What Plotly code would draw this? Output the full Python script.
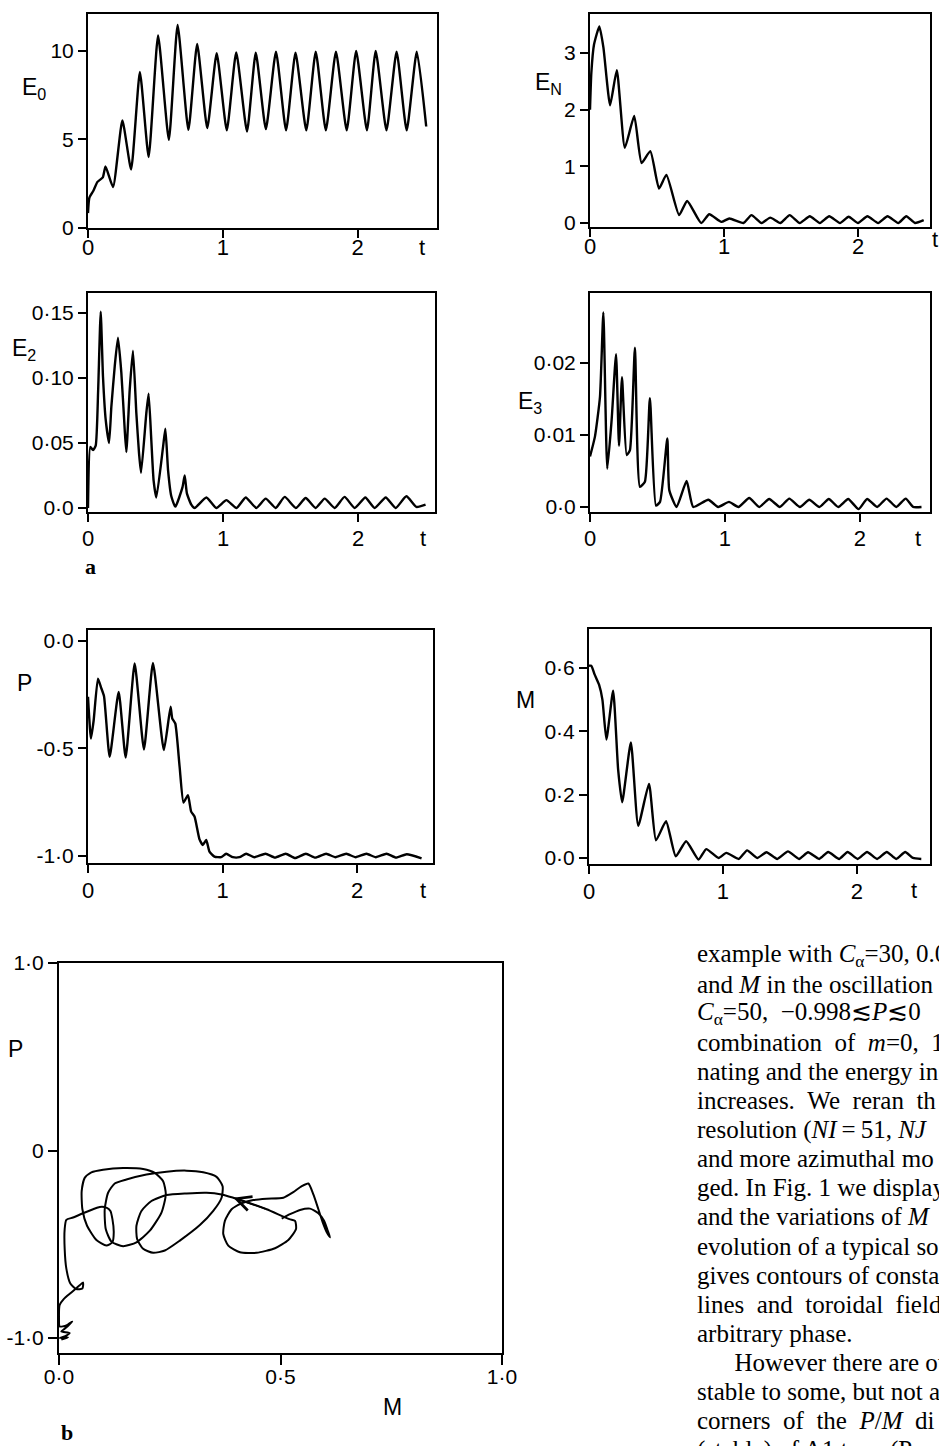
import plotly.graph_objects as go

# ---------------- data ----------------
E0_T = [0, 0.01, 0.04, 0.07, 0.11, 0.13, 0.186, 0.255, 0.32, 0.385, 0.45, 0.52, 0.60, 0.665, 0.745,
        0.81, 0.885, 0.955, 1.03, 1.10, 1.18, 1.245, 1.32, 1.395, 1.47, 1.54, 1.62, 1.69, 1.765,
        1.84, 1.92, 1.99, 2.07, 2.135, 2.215, 2.29, 2.365, 2.44, 2.51]
E0_V = [0.84, 1.7, 2.1, 2.6, 2.85, 3.47, 2.31, 6.06, 3.3, 8.8, 4.0, 10.85, 4.97, 11.44, 5.53,
        10.37, 5.63, 9.85, 5.5, 9.9, 5.44, 9.88, 5.57, 9.94, 5.5, 9.88, 5.5, 9.94, 5.5,
        9.94, 5.5, 9.98, 5.5, 9.98, 5.5, 9.94, 5.5, 9.94, 5.72]

EN_T = [0, 0.01, 0.03, 0.07, 0.10, 0.15, 0.20, 0.26, 0.33, 0.385, 0.45, 0.515, 0.57, 0.665, 0.725,
        0.83, 0.89, 0.98, 1.04, 1.145, 1.205, 1.28, 1.345, 1.42, 1.49, 1.565, 1.64, 1.715, 1.785,
        1.865, 1.93, 2.0, 2.07, 2.15, 2.22, 2.30, 2.36, 2.425, 2.49]
EN_V = [2.0, 2.65, 3.15, 3.47, 3.1, 2.08, 2.70, 1.33, 1.89, 1.06, 1.27, 0.61, 0.85, 0.14, 0.39,
        0.0, 0.155, 0.02, 0.08, 0.0, 0.14, 0.0, 0.095, 0.0, 0.14, 0.0, 0.12, 0.0, 0.12,
        0.0, 0.11, 0.0, 0.12, 0.0, 0.12, 0.0, 0.12, 0.0, 0.05]

E2_T = [0, 0.017, 0.037, 0.057, 0.075, 0.094, 0.111, 0.131, 0.156, 0.173, 0.198, 0.222, 0.247, 0.272,
        0.284, 0.309, 0.333, 0.358, 0.378, 0.393, 0.432, 0.449, 0.469, 0.486, 0.506, 0.556, 0.573,
        0.593, 0.617, 0.647, 0.70, 0.716, 0.733, 0.765, 0.79, 0.877, 0.95, 1.025, 1.10, 1.168,
        1.247, 1.316, 1.39, 1.457, 1.54, 1.612, 1.686, 1.753, 1.827, 1.90, 1.975, 2.054, 2.123,
        2.205, 2.279, 2.358, 2.432, 2.50]
E2_V = [0.0, 0.047, 0.0445, 0.048, 0.09, 0.151, 0.101, 0.068, 0.050, 0.078, 0.109, 0.131, 0.104, 0.060,
        0.043, 0.091, 0.121, 0.073, 0.042, 0.027, 0.073, 0.088, 0.052, 0.021, 0.008, 0.047, 0.061,
        0.029, 0.009, 0.001, 0.016, 0.025, 0.011, 0.0026, 0.0, 0.008, 0.0, 0.006, 0.0, 0.008,
        0.0, 0.0072, 0.0, 0.0085, 0.0, 0.0077, 0.0, 0.0072, 0.0, 0.0085, 0.0, 0.008, 0.0,
        0.008, 0.0, 0.009, 0.0008, 0.0026]

E3_T = [0, 0.037, 0.074, 0.099, 0.128, 0.16, 0.193, 0.215, 0.237, 0.272, 0.296, 0.333, 0.37, 0.407,
        0.444, 0.489, 0.519, 0.573, 0.588, 0.642, 0.716, 0.765, 0.877, 0.95, 1.03, 1.10, 1.18,
        1.254, 1.328, 1.407, 1.477, 1.556, 1.625, 1.70, 1.77, 1.84, 1.914, 1.99, 2.054, 2.128,
        2.198, 2.27, 2.34, 2.395, 2.457]
E3_V = [0.007, 0.0098, 0.0153, 0.027, 0.0053, 0.012, 0.0212, 0.0085, 0.018, 0.0072, 0.0079, 0.0221,
        0.0028, 0.0035, 0.0151, 0.0002, 0.0007, 0.0095, 0.0023, 0.0, 0.0036, 0.0, 0.001, 0.0,
        0.0007, 0.0, 0.00125, 0.0, 0.0011, 0.0, 0.00116, 0.0, 0.001, 0.0, 0.0011, 0.0, 0.0011,
        -0.0003, 0.0011, 0.0, 0.00116, 0.0, 0.00116, 0.0, 0.0]

P_T = [0, 0.022, 0.042, 0.074, 0.099, 0.119, 0.161, 0.228, 0.28, 0.347, 0.416, 0.483, 0.564, 0.614,
       0.626, 0.649, 0.681, 0.71, 0.743, 0.767, 0.792, 0.829, 0.854, 0.879, 0.903, 0.94, 0.99,
       1.027, 1.077, 1.126, 1.176, 1.238, 1.32, 1.39, 1.47, 1.54, 1.62, 1.69, 1.77, 1.84, 1.92,
       1.99, 2.07, 2.14, 2.22, 2.29, 2.37, 2.48]
P_V = [-0.26, -0.454, -0.37, -0.175, -0.22, -0.257, -0.539, -0.237, -0.542, -0.105, -0.505, -0.102,
       -0.508, -0.306, -0.36, -0.384, -0.585, -0.752, -0.717, -0.794, -0.817, -0.923, -0.949,
       -0.926, -0.98, -1.003, -1.006, -0.99, -1.006, -1.006, -0.99, -1.006, -0.99, -1.008, -0.99,
       -1.01, -0.99, -1.008, -0.99, -1.006, -0.99, -1.006, -0.99, -1.006, -0.99, -1.008, -0.992, -1.011]

M_T = [0, 0.017, 0.0425, 0.075, 0.10, 0.13, 0.18, 0.2175, 0.2475, 0.3125, 0.3675, 0.4475, 0.50,
       0.575, 0.6475, 0.725, 0.8175, 0.875, 0.9675, 1.025, 1.1175, 1.18, 1.255, 1.325, 1.405,
       1.485, 1.5675, 1.635, 1.7175, 1.785, 1.8675, 1.93, 2.005, 2.075, 2.15, 2.2225, 2.2925,
       2.36, 2.4175, 2.48]
M_V = [0.607, 0.607, 0.579, 0.547, 0.50, 0.374, 0.528, 0.279, 0.176, 0.365, 0.102, 0.234, 0.056,
       0.116, 0.005, 0.053, -0.005, 0.028, 0.0, 0.016, -0.003, 0.024, 0.0, 0.018, -0.003,
       0.021, -0.003, 0.018, -0.003, 0.019, -0.003, 0.019, -0.003, 0.019, -0.003, 0.019, -0.003,
       0.019, 0.0, -0.003]

PHASE_M = [0.5026, 0.5215, 0.5441, 0.5667, 0.5855, 0.5983, 0.6059, 0.6119, 0.6044, 0.5953, 0.5855,
           0.5742, 0.5629, 0.5479, 0.529, 0.5064, 0.4687, 0.4386, 0.4122, 0.3896, 0.3745, 0.3708,
           0.3821, 0.4084, 0.4461, 0.4876, 0.5177, 0.535, 0.5328, 0.52, 0.4687, 0.4235, 0.3934,
           0.367, 0.3331, 0.2879, 0.2427, 0.2087, 0.1861, 0.1748, 0.1763, 0.1899, 0.2125, 0.2389,
           0.2728, 0.318, 0.3482, 0.367, 0.3693, 0.3557, 0.3255, 0.2879, 0.2427, 0.1974, 0.1522,
           0.1258, 0.1108, 0.1032, 0.1055, 0.1183, 0.1447, 0.1748, 0.205, 0.2313, 0.2411, 0.2351,
           0.2163, 0.1899, 0.1447, 0.0995, 0.0731, 0.058, 0.0512, 0.0528, 0.0633, 0.0844, 0.107,
           0.1206, 0.1236, 0.1206, 0.1161, 0.107, 0.0919, 0.0769, 0.0543, 0.0317, 0.0166, 0.0128,
           0.0128, 0.0166, 0.0256, 0.0392, 0.0528, 0.0543, 0.0452, 0.0279, 0.0106, 0.0015, 0.0,
           0.0015, 0.0166, 0.0301, 0.0128, 0.0053, 0.0241, 0.0128, 0.0015, 0.0204, 0.0053]
PHASE_P = [-0.3627, -0.3398, -0.3169, -0.3099, -0.3345, -0.375, -0.4225, -0.463, -0.4366, -0.3838,
           -0.3134, -0.2342, -0.1761, -0.1901, -0.2218, -0.2518, -0.257, -0.2641, -0.2817, -0.3134,
           -0.375, -0.4454, -0.507, -0.5423, -0.5458, -0.5211, -0.4771, -0.419, -0.375, -0.3662,
           -0.3134, -0.2746, -0.2518, -0.2342, -0.2254, -0.2289, -0.2377, -0.2694, -0.3222, -0.4014,
           -0.4718, -0.5246, -0.5458, -0.5335, -0.4806, -0.3979, -0.3222, -0.2518, -0.1901, -0.1408,
           -0.1162, -0.1074, -0.1127, -0.1285, -0.1549, -0.1761, -0.2254, -0.3134, -0.419, -0.4859,
           -0.5106, -0.4894, -0.4278, -0.331, -0.2342, -0.1637, -0.1197, -0.0986, -0.0933, -0.1021,
           -0.1162, -0.1461, -0.2165, -0.3134, -0.4014, -0.4771, -0.507, -0.4894, -0.4366, -0.3662,
           -0.3222, -0.3046, -0.3011, -0.3134, -0.3345, -0.3574, -0.3697, -0.419, -0.5246, -0.6303,
           -0.7095, -0.7394, -0.7359, -0.7042, -0.7218, -0.757, -0.7923, -0.8239, -0.8944, -0.9384,
           -0.9331, -0.912, -0.9507, -0.9648, -0.9736, -0.9912, -1.0, -0.9965, -1.0088]
ARROW_IDX = 32

T_TICKS = [0, 1, 2]
T_TICKTEXT = ["0", "1", "2"]

TEXT_LINES = [
    "example with <i>C</i><sub>α</sub>=30, 0.0",
    "and <i>M</i> in the oscillation",
    "<i>C</i><sub>α</sub>=50,\u00a0\u00a0\u22120.998\u2272<i>P</i>\u22720",
    "combination\u00a0\u00a0of\u00a0\u00a0<i>m</i>=0,\u00a0\u00a01",
    "nating and the energy in",
    "increases.\u00a0\u00a0We\u00a0\u00a0reran\u00a0\u00a0th",
    "resolution (<i>NI</i>\u2009=\u200951, <i>NJ</i>",
    "and more azimuthal mo",
    "ged. In Fig. 1 we display",
    "and the variations of <i>M</i>",
    "evolution of a typical so",
    "gives contours of consta",
    "lines\u00a0\u00a0and\u00a0\u00a0toroidal\u00a0\u00a0field",
    "arbitrary phase.",
    "\u00a0\u00a0\u00a0\u00a0\u00a0\u00a0However there are ot",
    "stable to some, but not a",
    "corners\u00a0\u00a0of\u00a0\u00a0the\u00a0\u00a0<i>P</i>/<i>M</i>\u00a0\u00a0di",
    "(stable) of A1 type (P",
]

# ---------------- layout helpers ----------------
W, H = 939, 1446
SANS = "Liberation Sans, Arial, sans-serif"
SERIF = "Liberation Serif, Times New Roman, serif"


def dx(a, b):
    return [a / W, b / W]


def dy(top, bottom):
    return [1 - bottom / H, 1 - top / H]


def axis_style(**kw):
    d = dict(showline=True, linecolor="black", linewidth=2, mirror=True,
             ticks="outside", ticklen=8, tickwidth=2, tickcolor="black",
             showgrid=False, zeroline=False, fixedrange=True, automargin=False,
             tickfont=dict(family=SANS, size=21, color="black"))
    d.update(kw)
    return d


fig = go.Figure()

panels = [
    # x-domain px, y-domain px (top,bottom), xrange, yrange, t, v, yticks, yticktext, x-label standoff
    ((88, 437), (14, 228), [0, 2.59], [0, 12.06], E0_T, E0_V, [0, 5, 10], ["0", "5", "10"], -9),
    ((590, 930), (14, 227), [0, 2.537], [-0.07, 3.69], EN_T, EN_V, [0, 1, 2, 3], ["0", "1", "2", "3"], -9),
    ((88, 435), (293, 512), [0, 2.57], [-0.0031, 0.1654], E2_T, E2_V, [0, 0.05, 0.10, 0.15],
     ["0·0", "0·05", "0·10", "0·15"], -2),
    ((590, 930), (293, 512), [0, 2.52], [-0.0007, 0.0297], E3_T, E3_V, [0, 0.01, 0.02],
     ["0·0", "0·01", "0·02"], -2),
    ((88, 433), (630, 863), [0, 2.565], [-1.033, 0.051], P_T, P_V, [-1.0, -0.5, 0.0],
     ["-1·0", "-0·5", "0·0"], -1),
    ((589, 930), (629, 864), [0, 2.545], [-0.019, 0.723], M_T, M_V, [0, 0.2, 0.4, 0.6],
     ["0·0", "0·2", "0·4", "0·6"], -1),
]

for i, (xd, yd, xr, yr, tt, vv, yt, ytt, sto) in enumerate(panels, start=1):
    sfx = "" if i == 1 else str(i)
    fig.add_trace(go.Scatter(x=tt, y=vv, mode="lines", xaxis="x" + sfx, yaxis="y" + sfx,
                             line=dict(color="black", width=2.4, shape="spline", smoothing=0.5),
                             showlegend=False, hoverinfo="skip"))
    fig.layout["xaxis" + sfx] = axis_style(domain=dx(*xd), range=xr, anchor="y" + sfx,
                                          tickvals=T_TICKS, ticktext=T_TICKTEXT,
                                          tickfont=dict(family=SANS, size=22, color="black"),
                                          ticklabelstandoff=sto)
    fig.layout["yaxis" + sfx] = axis_style(domain=dy(*yd), range=yr, anchor="x" + sfx,
                                          tickvals=yt, ticktext=ytt, ticklabelstandoff=0)

# phase plot
fig.add_trace(go.Scatter(x=PHASE_M, y=PHASE_P, mode="lines", xaxis="x7", yaxis="y7",
                         line=dict(color="black", width=2, shape="spline", smoothing=0.6),
                         showlegend=False, hoverinfo="skip"))
fig.layout["xaxis7"] = axis_style(domain=dx(59, 502), range=[0, 1], anchor="y7",
                                  tickvals=[0, 0.5, 1.0], ticktext=["0·0", "0·5", "1·0"],
                                  ticklen=10, ticklabelstandoff=-6)
fig.layout["yaxis7"] = axis_style(domain=dy(963, 1353), range=[-1.08, 1.0], anchor="x7",
                                  tickvals=[-1.0, 0, 1.0], ticktext=["-1·0", "0", "1·0"],
                                  ticklen=9, ticklabelstandoff=0)

annotations = []

# direction arrow on the trajectory (head at one of the traced points)
annotations.append(dict(x=PHASE_M[ARROW_IDX], y=PHASE_P[ARROW_IDX], xref="x7", yref="y7",
                        ax=PHASE_M[ARROW_IDX - 2], ay=PHASE_P[ARROW_IDX - 2], axref="x7", ayref="y7",
                        text="", showarrow=True, arrowhead=5, arrowsize=1.6, arrowwidth=1.8,
                        arrowcolor="black"))


def lab(text, px, py, size=23, family=SANS, xanchor="center", **kw):
    annotations.append(dict(text=text, x=px / W, y=1 - py / H, xref="paper", yref="paper",
                            showarrow=False, xanchor=xanchor, yanchor="middle",
                            font=dict(family=family, size=size, color="black"), **kw))


lab("E<sub>0</sub>", 34, 88)
lab("E<sub>N</sub>", 548, 83)
lab("E<sub>2</sub>", 24, 349)
lab("E<sub>3</sub>", 530, 402)
lab("P", 24, 683)
lab("M", 525, 700)
lab("P", 15, 1049)
lab("M", 392, 1407)
for (px, py) in [(422, 247), (935, 240), (423, 538), (918, 538), (423, 890), (914, 890)]:
    lab("t", px, py, size=22)
lab("<b>a</b>", 90, 567, size=22, family=SERIF)
lab("<b>b</b>", 67, 1432, size=22, family=SERIF)

for k, line in enumerate(TEXT_LINES):
    lab(line, 695, 955 + 29.1 * k, size=25, family=SERIF, xanchor="left")

fig.update_layout(width=W, height=H, margin=dict(l=0, r=0, t=0, b=0, pad=0, autoexpand=False),
                  paper_bgcolor="white", plot_bgcolor="white", template="none",
                  annotations=annotations, showlegend=False)

fig.write_html("out.html", config={"displayModeBar": False},
               post_script="document.body.style.margin='0';document.body.style.overflow='hidden';")
